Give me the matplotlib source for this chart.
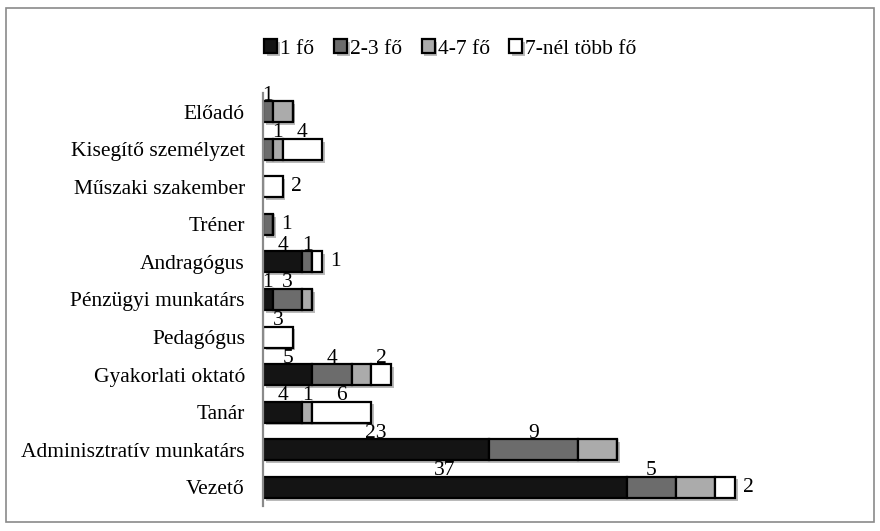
import matplotlib
matplotlib.use('Agg')
import matplotlib.pyplot as plt
import matplotlib.patheffects as pe
from matplotlib.patches import Rectangle
import numpy as np

plt.rcParams['font.family'] = ['Liberation Serif', 'DejaVu Serif']

# bottom to top, as in the chart
categories = ['Vezető', 'Adminisztratív munkatárs', 'Tanár', 'Gyakorlati oktató',
              'Pedagógus', 'Pénzügyi munkatárs', 'Andragógus', 'Tréner',
              'Műszaki szakember', 'Kisegítő személyzet', 'Előadó']
series_names = ['1 fő', '2-3 fő', '4-7 fő', '7-nél több fő']
one = [37, 23, 4, 5, 0, 1, 4, 0, 0, 0, 0]
two_three = [5, 9, 0, 4, 0, 3, 1, 1, 0, 1, 1]
four_seven = [4, 4, 1, 2, 0, 1, 0, 0, 0, 1, 2]
more_seven = [2, 0, 6, 2, 3, 0, 1, 0, 2, 4, 0]

# data labels that the original chart does not show / shows to the right
hidden_labels = {('Vezető', 2), ('Adminisztratív munkatárs', 2), ('Gyakorlati oktató', 2),
                 ('Pénzügyi munkatárs', 2), ('Kisegítő személyzet', 1), ('Előadó', 2)}
right_labels = {('Vezető', 3), ('Andragógus', 3), ('Tréner', 1), ('Műszaki szakember', 3)}

colors = ['#141414', '#6c6c6c', '#ababab', '#ffffff']

fig = plt.figure(figsize=(8.8, 5.31), dpi=100)
ax = fig.add_axes([263 / 880, 25 / 531, 590 / 880, 413 / 531])

y = np.arange(len(categories))
bar_h = 0.56
left = np.zeros(len(categories))
shadow = [pe.SimplePatchShadow(offset=(2, -2), shadow_rgbFace='#777777', alpha=0.5), pe.Normal()]

for s, vals in enumerate([one, two_three, four_seven, more_seven]):
    vals = np.array(vals, dtype=float)
    bars = ax.barh(y, vals, left=left, height=bar_h, color=colors[s],
                   edgecolor='black', linewidth=1.6, label=series_names[s])
    for b in bars:
        b.set_path_effects(shadow)
    for i, v in enumerate(vals):
        if v == 0 or (categories[i], s) in hidden_labels:
            continue
        if (categories[i], s) in right_labels:
            ax.annotate('%d' % v, (left[i] + v, y[i]), xytext=(6, 0),
                        textcoords='offset points', ha='left', va='center', fontsize=15.5)
        else:
            ax.text(left[i] + v / 2, y[i] + bar_h / 2 + 0.04, '%d' % v,
                    ha='center', va='baseline', fontsize=15.5)
    left += vals

ax.set_xlim(0, 60)
ax.set_ylim(-0.5, len(categories) - 0.5)
ax.set_yticks(y)
ax.set_yticklabels(categories, fontsize=15.5)
ax.tick_params(axis='y', length=0, pad=13)
ax.set_xticks([])
for side in ['top', 'right', 'bottom']:
    ax.spines[side].set_visible(False)
ax.spines['left'].set_color('#8a8a8a')
ax.spines['left'].set_linewidth(1.6)

fig.legend(loc='center', bbox_to_anchor=(0.512, 0.908), ncol=4, frameon=False,
           fontsize=15.5, handlelength=0.6, handleheight=0.6, handletextpad=0.15,
           columnspacing=0.9)

fig.patches.append(Rectangle((6 / 880, 9 / 531), 868 / 880, 514 / 531,
                             transform=fig.transFigure, fill=False,
                             edgecolor='#8a8a8a', linewidth=1.2))

fig.savefig('out.png', dpi=100)
